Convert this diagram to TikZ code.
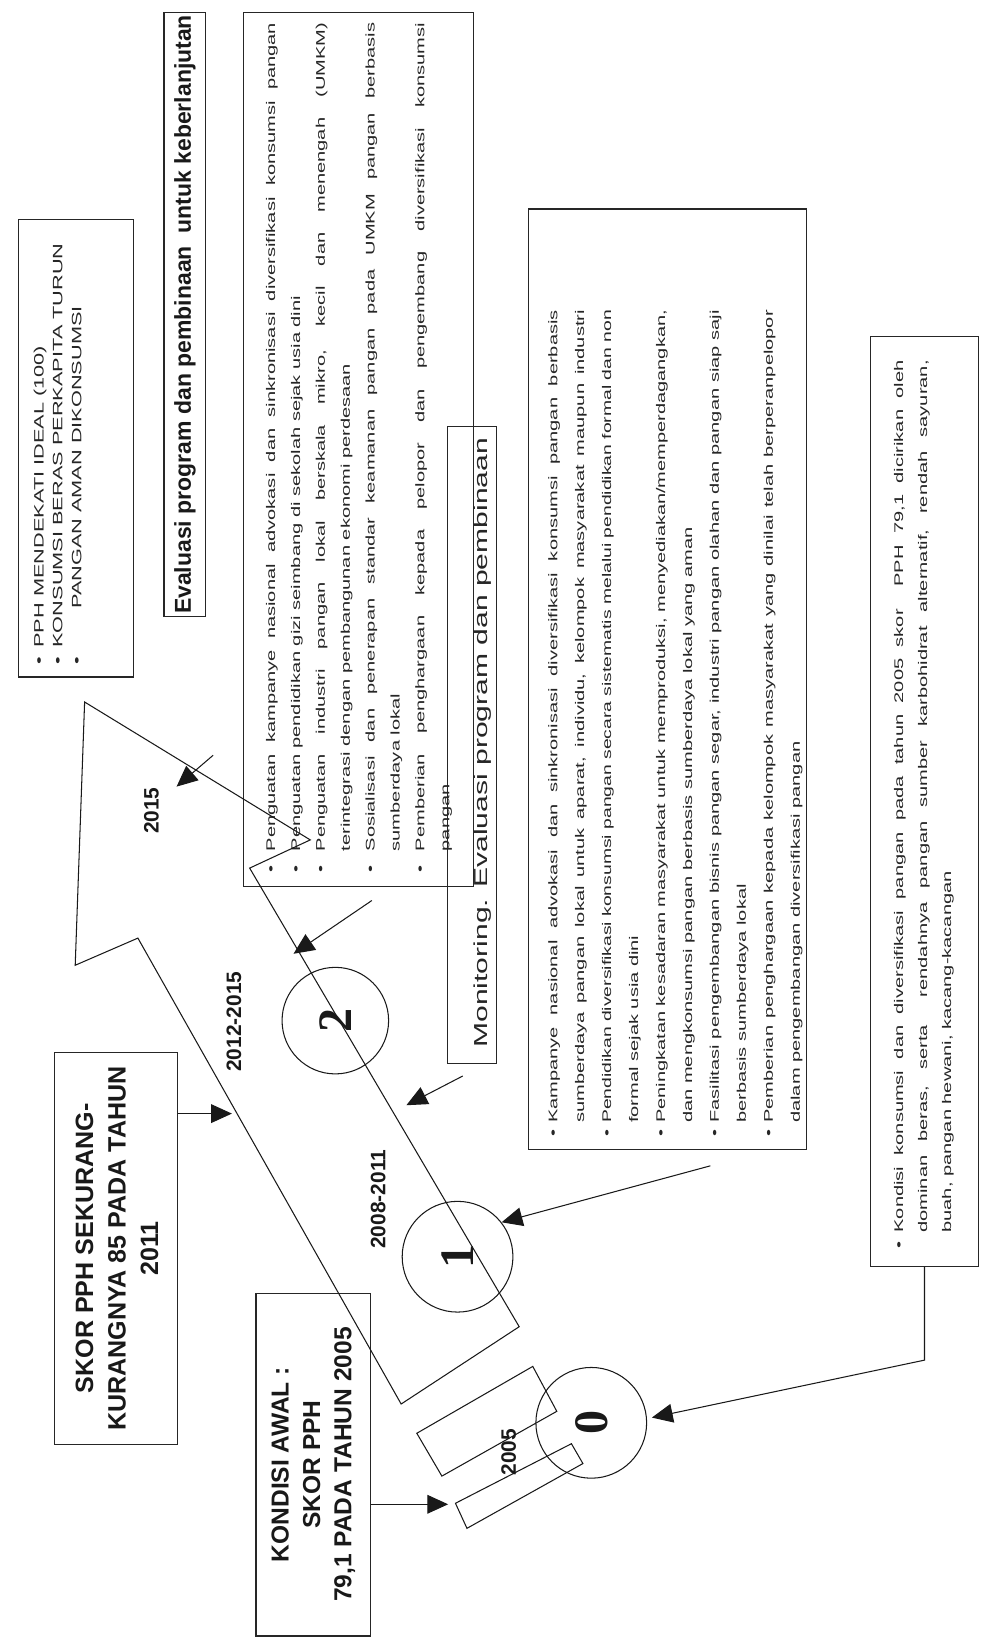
\documentclass[tikz,border=0pt]{standalone}
\usepackage{fontspec}
\setmainfont{Liberation Sans}
\newfontfamily\bodyf[FakeStretch=1.6]{Liberation Sans}
\newfontfamily\digitf{Liberation Serif}
\usetikzlibrary{arrows.meta}
\newcommand\jl[2]{\setbox0=\hbox{#2}\ifdim\wd0>#1\relax\resizebox{#1}{\height}{#2}\else\makebox[#1][s]{#2}\fi}
\newcommand\bl[1]{\makebox[#1][l]{\textbullet}}
\tikzset{
  box/.style={draw=black!85, line width=1.1pt, inner sep=0pt},
  ln/.style={line width=1pt, draw=black!90},
  arr/.style={ln, -{Triangle[length=20pt,width=18pt]}},
  lbl/.style={rotate=90, inner sep=0pt, text=black!90, font=\bfseries\fontsize{20}{24}\selectfont},
  ring/.style={circle, draw=black!90, line width=1pt, inner sep=0pt, text=black!90, font=\digitf\bfseries\fontsize{46}{46}\selectfont},
  txt/.style={rotate=90, inner sep=0pt, text=black!85}
}
\begin{document}
\begin{tikzpicture}[x=1pt, y=-1pt]
\useasboundingbox[fill=white] (0,0) rectangle (939,1568);

% boxes
\node[box, minimum width=110pt, minimum height=438pt] (boxA) at (73,429) {};
\node[box, minimum width=40pt, minimum height=578pt] (boxB) at (177,301) {};
\node[box, minimum width=220pt, minimum height=837pt] (boxC) at (343,430.5) {};
\node[box, minimum width=47pt, minimum height=610pt] (boxD) at (451.5,713) {};
\node[box, minimum width=266pt, minimum height=900pt] (boxE) at (639,650) {};
\node[box, minimum width=104pt, minimum height=890pt] (boxF) at (885,767) {};
\node[box, minimum width=118pt, minimum height=375pt] (boxG) at (111,1195) {};
\node[box, minimum width=110pt, minimum height=328pt] (boxK) at (300,1402) {};

% box texts
\node[txt, anchor=north west] (tA) at (29,636.6) {\parbox[t]{600pt}{\bodyf\fontsize{13}{18}\selectfont
\strut\bl{16.6pt}PPH MENDEKATI IDEAL (100)\par
\strut\bl{16.6pt}KONSUMSI BERAS PERKAPITA TURUN\par
\strut\bl{16.6pt}\hspace{37pt}PANGAN AMAN DIKONSUMSI}};

\node[txt, font=\bfseries\fontsize{22}{26}\selectfont, text=black!90] (tB) at (177,301) {Evaluasi program dan pembinaan \ untuk keberlanjutan};

\node[txt, anchor=north west] (tC) at (246.6,835.4) {\parbox[t]{900pt}{\bodyf\fontsize{12}{23.8}\selectfont
\strut\bl{20.4pt}\jl{793pt}{Penguatan kampanye nasional advokasi dan sinkronisasi diversifikasi konsumsi pangan}\par
\strut\bl{20.4pt}Penguatan pendidikan gizi seimbang di sekolah sejak usia dini\par
\strut\bl{20.4pt}\jl{793pt}{Penguatan industri pangan lokal berskala mikro, kecil dan menengah (UMKM)}\par
\strut\hspace*{20.4pt}terintegrasi dengan pembangunan ekonomi perdesaan\par
\strut\bl{20.4pt}\jl{793pt}{Sosialisasi dan penerapan standar keamanan pangan pada UMKM pangan berbasis}\par
\strut\hspace*{20.4pt}sumberdaya lokal\par
\strut\bl{20.4pt}\jl{793pt}{Pemberian penghargaan kepada pelopor dan pengembang diversifikasi konsumsi}\par
\strut\hspace*{20.4pt}pangan}};

\node[txt, font=\bodyf\fontsize{18}{20}\selectfont] (tD) at (462,711) {Monitoring. Evaluasi program dan pembinaan};

\node[txt, anchor=north west] (tE) at (515.2,1088.4) {\parbox[t]{900pt}{\bodyf\fontsize{12}{25.8}\selectfont
\strut\bl{13.4pt}\jl{778pt}{Kampanye nasional advokasi dan sinkronisasi diversifikasi konsumsi pangan berbasis}\par
\strut\hspace*{13.4pt}\jl{778pt}{sumberdaya pangan lokal untuk aparat, individu, kelompok masyarakat maupun industri}\par
\strut\bl{13.4pt}\jl{778pt}{Pendidikan diversifikasi konsumsi pangan secara sistematis melalui pendidikan formal dan non}\par
\strut\hspace*{13.4pt}formal sejak usia dini\par
\strut\bl{13.4pt}\jl{778pt}{Peningkatan kesadaran masyarakat untuk memproduksi, menyediakan/memperdagangkan,}\par
\strut\hspace*{13.4pt}dan mengkonsumsi pangan berbasis sumberdaya lokal yang aman\par
\strut\bl{13.4pt}\jl{778pt}{Fasilitasi pengembangan bisnis pangan segar, industri pangan olahan dan pangan siap saji}\par
\strut\hspace*{13.4pt}berbasis sumberdaya lokal\par
\strut\bl{13.4pt}\jl{778pt}{Pemberian penghargaan kepada kelompok masyarakat yang dinilai telah berperanpelopor}\par
\strut\hspace*{13.4pt}dalam pengembangan diversifikasi pangan}};

\node[txt, anchor=north west] (tF) at (848.2,1195.4) {\parbox[t]{900pt}{\bodyf\fontsize{12}{23}\selectfont
\strut\bl{15.4pt}\jl{835pt}{Kondisi konsumsi dan diversifikasi pangan pada tahun 2005 skor \ PPH 79,1 dicirikan oleh}\par
\strut\hspace*{15.4pt}\jl{835pt}{dominan beras, serta \ rendahnya pangan sumber karbohidrat alternatif, rendah sayuran,}\par
\strut\hspace*{15.4pt}buah, pangan hewani, kacang-kacangan}};

\node[txt, align=center, text=black!90, font=\bfseries\fontsize{24}{31}\selectfont] (tG) at (112,1195) {SKOR PPH SEKURANG-\\KURANGNYA 85 PADA TAHUN\\2011};
\node[txt, align=center, text=black!90, font=\bfseries\fontsize{23.5}{30}\selectfont] (tK) at (300,1402) {KONDISI AWAL :\\SKOR PPH\\79,1 PADA TAHUN 2005};

% big arrow band
\draw[ln] (81,672) -- (297,804) -- (239,831) -- (497,1270) -- (384,1344) -- (132,898) -- (72,924) -- cycle;
% small rectangles near 0
\draw[ln] (399,1372) -- (510,1308) -- (533,1351) -- (423,1413) -- cycle;
\draw[ln] (436,1439) -- (547,1382) -- (558,1401) -- (447,1463) -- cycle;

% circles
\node[ring, minimum size=102pt] (c2) at (321,977) {\rotatebox{90}{2}};
\node[ring, minimum size=106pt] (c1) at (438,1203) {\rotatebox{90}{1}};
\node[ring, minimum size=106pt] (c0) at (566,1362) {\rotatebox{90}{0}};

% labels
\node[lbl] (l15) at (145,776) {2015};
\node[lbl] (l1215) at (224,978) {2012-2015};
\node[lbl] (l0811) at (362,1148) {2008-2011};
\node[lbl] (l05) at (487,1390) {2005};

% arrows
\coordinate (a15s) at (204,723);
\coordinate (a15t) at (169,753);
\draw[arr] (a15s) -- (a15t);
\coordinate (gt) at (222,1066);
\draw[arr] (boxG.east |- gt) -- (gt);
\coordinate (kt) at (429,1440);
\draw[arr] (boxK.east |- kt) -- (kt);
\coordinate (b2s) at (356,862);
\coordinate (b2t) at (281,913);
\draw[arr] (b2s) -- (b2t);
\coordinate (ms) at (443,1030);
\coordinate (mt) at (389,1058);
\draw[arr] (ms) -- (mt);
\coordinate (c1s) at (680,1116);
\draw[arr] (c1s) -- (c1.38);
\coordinate (fbend) at (885,1302);
\coordinate (c0t) at (624,1357);
\draw[arr] (boxF.south) -- (fbend) -- (c0t);
\end{tikzpicture}
\end{document}
